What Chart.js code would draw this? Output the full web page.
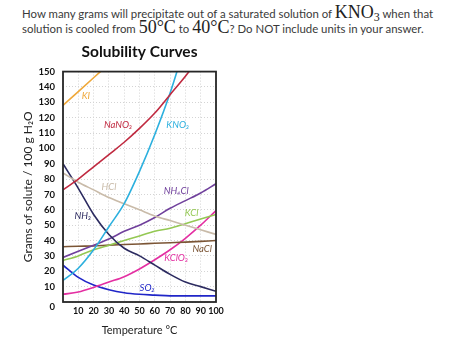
<!DOCTYPE html>
<html>
<head>
<meta charset="utf-8">
<script src="https://cdn.jsdelivr.net/npm/chart.js@4.4.1/dist/chart.umd.min.js"></script>
<style>
  html, body { margin: 0; padding: 0; background: #fff; }
  body { width: 474px; height: 339px; position: relative; overflow: hidden; }
  .q { position: absolute; left: 22px; white-space: nowrap; font-family: Lato, sans-serif; font-size: 11.4px; color: #3a3a3a; line-height: 16px; }
  .q .m { font-family: "Liberation Serif", serif; font-size: 18px; color: #222; }
  .q sub { font-size: 12px; vertical-align: -3px; line-height: 0; }
  #q1 { top: 4px; }
  #q2 { top: 19px; }
  #chart { position: absolute; left: 0; top: 0; }
</style>
</head>
<body>
<div class="q" id="q1">How many grams will precipitate out of a saturated solution of <span class="m">KNO<sub>3</sub></span> when that</div>
<div class="q" id="q2">solution is cooled from <span class="m">50°C</span> to <span class="m">40°C</span>? Do NOT include units in your answer.</div>
<canvas id="chart" width="474" height="339"></canvas>
<script>
'use strict';

// temperature samples in °C (shorter series run off the top of the chart)
const temps = [0, 10, 20, 30, 40, 50, 60, 70, 80, 90, 100];

// grams of solute per 100 g water
const kiVals    = [128, 137, 146, 155];
const nano3Vals = [73, 80, 88, 96, 104, 113, 123, 135, 147, 160];
const kno3Vals  = [14, 22, 34, 49, 64, 85, 109, 136, 168];
const hclVals   = [84, 78, 73, 68, 64, 60, 56, 53, 50, 47, 44];
const nh3Vals   = [90, 74, 57, 44, 35, 30, 24, 18, 13, 10, 7];
const nh4clVals = [29, 33, 37, 41, 46, 50, 55, 61, 66, 71, 77];
const kclVals   = [27, 30, 34, 37, 40, 43, 46, 48, 51, 54, 57];
const naclVals  = [36, 36.3, 36.5, 37, 37.4, 37.8, 38.2, 38.6, 39, 39.5, 40];
const kclo3Vals = [5, 6.5, 9.5, 13, 16.5, 21.5, 27.5, 34, 41.5, 50, 59.5];
const so2Vals   = [24, 16, 11, 8, 6, 5, 4.5, 4, 4, 4, 4];

const xTicks = [10, 20, 30, 40, 50, 60, 70, 80, 90, 100];
const yTicks = [0, 10, 20, 30, 40, 50, 60, 70, 80, 90, 100, 110, 120, 130, 140, 150];

const series = [
  { name: 'KI',    vals: kiVals,    color: '#efa83a' },
  { name: 'NaNO₃', vals: nano3Vals, color: '#c02a40' },
  { name: 'KNO₃',  vals: kno3Vals,  color: '#2cb0de' },
  { name: 'HCl',   vals: hclVals,   color: '#c9bba9' },
  { name: 'NH₃',   vals: nh3Vals,   color: '#2c2b60' },
  { name: 'NH₄Cl', vals: nh4clVals, color: '#70409c' },
  { name: 'KCl',   vals: kclVals,   color: '#94c853' },
  { name: 'NaCl',  vals: naclVals,  color: '#7b5535' },
  { name: 'KClO₃', vals: kclo3Vals, color: '#e42fa2' },
  { name: 'SO₂',   vals: so2Vals,   color: '#2026c8' },
];

// where each curve's name sits, in data units (°C, g)
const curveLabels = [
  ['KI', 15, 134], ['NaNO₃', 36, 115], ['KNO₃', 75, 115], ['HCl', 30, 75],
  ['NH₄Cl', 74, 72], ['NH₃', 13, 56], ['KCl', 84, 58], ['NaCl', 91, 34.5],
  ['KClO₃', 74, 28.5], ['SO₂', 55, 9],
];

Chart.defaults.font.family = 'Lato, sans-serif';

const datasets = series.map(s => ({
  label: s.name,
  data: s.vals.map((v, i) => ({ x: temps[i], y: v })),
  borderColor: s.color,
  borderWidth: 1.6,
  pointRadius: 0,
  cubicInterpolationMode: 'monotone',
  fill: false,
}));

const extras = {
  id: 'extras',
  afterDatasetsDraw(chart) {
    const { ctx, chartArea: a, scales: { x, y } } = chart;
    ctx.save();
    // curve names
    ctx.font = 'italic 9.5px Lato, sans-serif';
    ctx.textAlign = 'center';
    ctx.textBaseline = 'middle';
    curveLabels.forEach(([name, t, g]) => {
      const s = series.find(d => d.name === name);
      ctx.fillStyle = s.color;
      ctx.fillText(name, x.getPixelForValue(t), y.getPixelForValue(g));
    });
    // plot frame
    ctx.strokeStyle = '#262626';
    ctx.lineWidth = 1.8;
    ctx.strokeRect(a.left, a.top, a.right - a.left, a.bottom - a.top);
    // the zero label sits a little below the corner
    ctx.fillStyle = '#111';
    ctx.font = 'bold 9.5px Lato, sans-serif';
    ctx.textAlign = 'right';
    ctx.fillText('0', a.left - 8, y.getPixelForValue(0) + 5);
    ctx.restore();
  }
};

new Chart(document.getElementById('chart'), {
  type: 'line',
  data: { datasets },
  options: {
    responsive: false,
    animation: false,
    layout: { padding: { left: 0, right: 258, top: 43, bottom: 0 } },
    plugins: {
      legend: { display: false },
      tooltip: { enabled: false },
      title: {
        display: true, text: 'Solubility Curves', fullSize: false,
        color: '#111', font: { size: 15.5, weight: 'bold' },
        padding: { top: 0, bottom: 10 }
      }
    },
    scales: {
      x: {
        type: 'linear', min: 0, max: 100,
        afterBuildTicks: s => { s.ticks = [0].concat(xTicks).map(v => ({ value: v })); },
        afterFit: s => { s.height = 37; },
        ticks: { padding: 4, color: '#111', font: { size: 9, weight: 'bold' },
                 callback: v => xTicks.includes(v) ? String(v) : '', maxRotation: 0, autoSkip: false },
        grid: { color: '#d4d4d4', drawTicks: false },
        border: { display: false, dash: [1, 2] },
        title: { display: true, text: 'Temperature °C', color: '#222',
                 font: { size: 11 }, padding: { top: 0, bottom: 2 } }
      },
      y: {
        min: 0, max: 150,
        afterBuildTicks: s => { s.ticks = yTicks.map(v => ({ value: v })); },
        afterFit: s => { s.width = 63; },
        ticks: { padding: 8, color: '#111', font: { size: 9.5, weight: 'bold' },
                 callback: v => v === 0 ? '' : String(v), autoSkip: false },
        grid: { color: '#d4d4d4', drawTicks: false },
        border: { display: false, dash: [1, 2] },
        title: { display: true, text: 'Grams of solute / 100 g H₂O', color: '#222',
                 font: { size: 12 }, padding: { top: 21, bottom: 0 } }
      }
    }
  },
  plugins: [extras]
});
</script>
</body>
</html>
